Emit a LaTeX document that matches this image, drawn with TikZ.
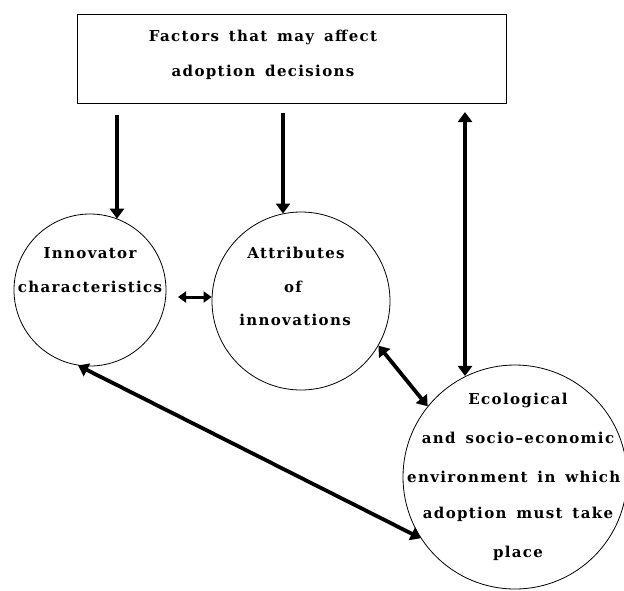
\documentclass[tikz,border=0pt]{standalone}
\usepackage{fontspec}
\setmainfont{DejaVu Serif}[LetterSpace=9, WordSpace=1.5]
\usetikzlibrary{arrows.meta}
\begin{document}
\begin{tikzpicture}[x=1pt,y=-1pt,
  lbl/.style={font=\fontsize{15}{15}\selectfont\bfseries, inner sep=0},
  ring/.style={circle, draw, line width=0.8pt, inner sep=0},
  conn/.style={line width=4pt, -{Triangle[length=10pt,width=14pt]}},
  dconn/.style={line width=3.8pt, {Triangle[length=10pt,width=14pt]}-{Triangle[length=10pt,width=14pt]}},
  sconn/.style={line width=3pt, {Triangle[length=8pt,width=11pt]}-{Triangle[length=8pt,width=11pt]}}]
\useasboundingbox (0,0) rectangle (624,590);
% top box
\node[draw, line width=0.8pt, minimum width=429pt, minimum height=89pt, inner sep=0] (box) at (291.5,58.5) {};
\node[lbl] (t1) at (263,37) {Factors that may affect};
\node[lbl] (t2) at (263,72) {adoption decisions};
% circles
\node[ring, minimum size=152pt] (c1) at (90,290) {};
\node[ring, minimum size=178pt] (c2) at (301,301) {};
\node[ring, minimum size=224pt] (c3) at (515,477) {};
% circle texts
\node[lbl] (i1) at (90,253) {Innovator};
\node[lbl] (i2) at (90,287) {characteristics};
\node[lbl] (a1) at (296,253) {Attributes};
\node[lbl] (a2) at (293,287) {of};
\node[lbl] (a3) at (295,320) {innovations};
\node[lbl] (e1) at (518,400) {Ecological};
\node[lbl] (e2) at (518,438) {and socio–economic};
\node[lbl, anchor=west] (e3) at (407,477) {environment in which};
\node[lbl] (e4) at (518,514) {adoption must take};
\node[lbl] (e5) at (518,553) {place};
% connectors
\coordinate (s1) at (117,115);
\coordinate (s2) at (283,113);
\coordinate (s3) at (465,112);
\coordinate (h1) at (178,297);
\draw[conn] (s1) -- (s1 |- c1.69);
\draw[conn] (s2) -- (s2 |- c2.102);
\draw[dconn] (s3) -- (s3 |- c3.116.5);
\draw[sconn] (h1) -- (h1 -| c2.west);
\draw[dconn] (c2.-30) -- (c3.141);
\draw[dconn] (c1.-99) -- (c3.213);
\end{tikzpicture}
\end{document}
